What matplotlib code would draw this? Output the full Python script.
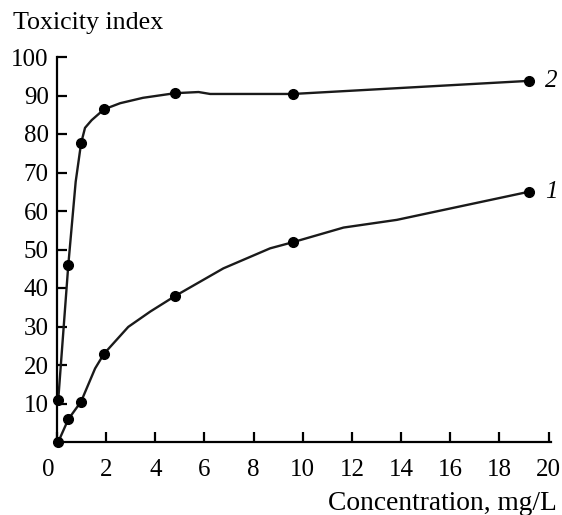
import matplotlib
matplotlib.use("Agg")
import matplotlib.pyplot as plt

# Measured points (concentration, mg/L -> toxicity index)
conc = [0.05, 0.46, 0.98, 1.91, 4.8, 9.6, 19.2]
tox1 = [0, 5.9, 10.5, 22.9, 37.9, 51.9, 65.0]
tox2 = [10.9, 46.0, 77.6, 86.4, 90.6, 90.4, 93.8]

# Hand-drawn curve traces
trace1_x = [0.05, 0.46, 0.98, 1.55, 1.91, 2.9, 3.8, 4.8, 6.77, 8.67, 9.6, 11.66, 13.83, 19.2]
trace1_y = [0, 5.9, 10.5, 19.1, 22.9, 29.9, 33.9, 37.9, 45.1, 50.3, 51.9, 55.7, 57.7, 65.0]
trace2_x = [0.05, 0.46, 0.76, 0.98, 1.14, 1.41, 1.91, 2.57, 3.5, 4.8, 5.76, 6.23, 9.6, 19.2]
trace2_y = [10.9, 46.0, 67.6, 77.6, 81.6, 83.6, 86.4, 88.0, 89.4, 90.6, 90.9, 90.4, 90.4, 93.8]

xticks = list(range(0, 21, 2))
yticks = list(range(10, 101, 10))
curve_labels = ["1", "2"]

plt.rcParams['font.family'] = ['Liberation Serif', 'DejaVu Serif']
plt.rcParams['font.size'] = 17

fig = plt.figure(figsize=(5.62, 5.15), dpi=100)
ax = fig.add_axes([57/562, 1 - 442/515, (551 - 57)/562, (442 - 57)/515])

col = '#1a1a1a'
ax.plot(trace1_x, trace1_y, color=col, lw=1.7, solid_joinstyle='round', clip_on=False)
ax.plot(trace2_x, trace2_y, color=col, lw=1.7, solid_joinstyle='round', clip_on=False)
ax.plot(conc, tox1, 'o', color='black', ms=7, clip_on=False, zorder=5)
ax.plot(conc, tox2, 'o', color='black', ms=7, clip_on=False, zorder=5)

ax.text(19.85, tox1[-1], curve_labels[0], style='italic', ha='left', va='center', fontsize=18)
ax.text(19.85, tox2[-1], curve_labels[1], style='italic', ha='left', va='center', fontsize=18)

ax.set_xlim(0, 20.1)
ax.set_ylim(0, 100)
ax.set_xticks(xticks)
ax.set_xticklabels([''] + [str(v) for v in xticks[1:]])
ax.set_yticks(yticks)
ax.set_yticklabels([str(v) for v in yticks])
ax.tick_params(axis='both', direction='in', length=7, width=1.6, labelsize=18, color='black')
ax.tick_params(axis='x', pad=12)
ax.tick_params(axis='y', pad=6)

ax.text(-0.37, -0.044, '0', transform=ax.get_xaxis_transform(), ha='center', va='top', fontsize=18)

for s in ['top', 'right']:
    ax.spines[s].set_visible(False)
for s in ['left', 'bottom']:
    ax.spines[s].set_linewidth(1.6)

fig.text(13/562, 1 - 23/515, 'Toxicity index', ha='left', va='center', fontsize=18.7)
fig.text(557/562, 1 - 503/515, 'Concentration, mg/L', ha='right', va='center', fontsize=19.8)

fig.savefig('out.png', dpi=100)
